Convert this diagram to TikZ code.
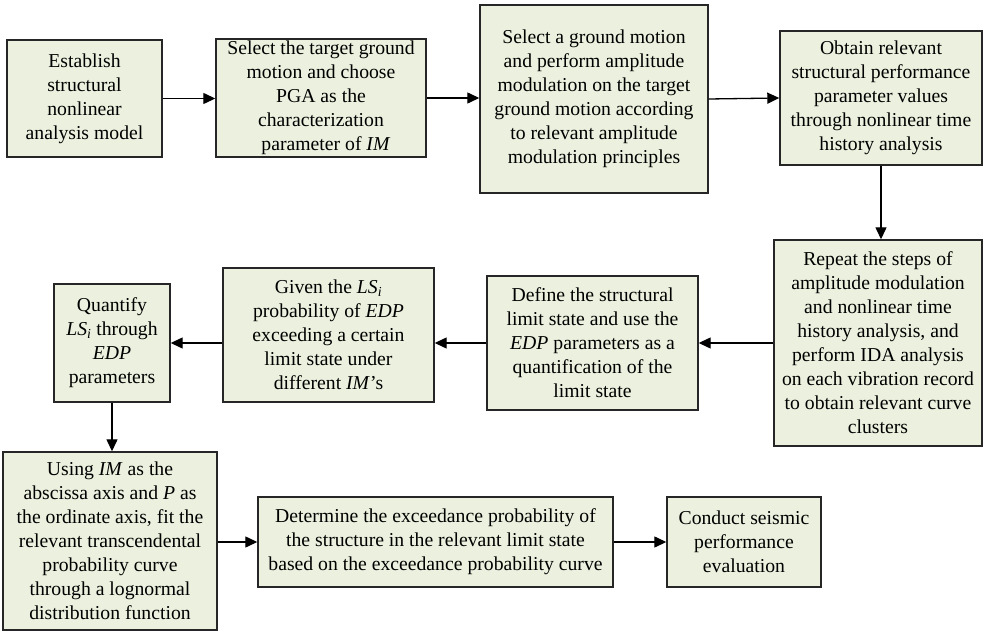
\documentclass[tikz,border=0pt]{standalone}
\usepackage{fontspec}
\setmainfont{Liberation Serif}
\usetikzlibrary{arrows.meta}
\definecolor{boxfill}{HTML}{EBF1DE}
\definecolor{boxline}{HTML}{262626}
\begin{document}
\begin{tikzpicture}[
            x = 1pt,
            y = -1pt,
            stepbox/.style = {
                draw = boxline,
                fill = boxfill,
                line width = 1.4pt,
                align = center,
                inner sep = 0pt,
                font = \fontsize{19.7}{24}\selectfont
            },
            flow/.style = {
                line width = 1.3pt,
                -{Triangle[length=12pt,width=11pt]}
            }
        ]
            \useasboundingbox (0,0) rectangle (983,631);
            % first row
            \node[stepbox, minimum width=155pt, minimum height=117pt] (est) at (84.5,98.5)
                {Establish\\structural\\nonlinear\\analysis model};
            \node[stepbox, minimum width=210pt, minimum height=118pt] (sel) at (321,98)
                {Select the target ground\\motion and choose\\PGA as the\\characterization\\\ \ parameter of \textit{IM}};
            \node[stepbox, minimum width=228pt, minimum height=188pt] (amp) at (594,99)
                {Select a ground motion\\and perform amplitude\\modulation on the target\\ground motion according\\to relevant amplitude\\modulation principles};
            \node[stepbox, minimum width=202pt, minimum height=134pt] (obt) at (881,98)
                {Obtain relevant\\structural performance\\parameter values\\through nonlinear time\\history analysis};
            % second row
            \node[stepbox, minimum width=208pt, minimum height=206pt] (rep) at (878,343)
                {Repeat the steps of\\amplitude modulation\\and nonlinear time\\history analysis, and\\perform IDA analysis\\on each vibration record\\to obtain relevant curve\\clusters};
            \node[stepbox, minimum width=211pt, minimum height=134pt] (lim) at (592.5,343)
                {Define the structural\\limit state and use the\\\textit{EDP} parameters as a\\quantification of the\\limit state};
            \node[stepbox, minimum width=211pt, minimum height=134pt] (giv) at (328.5,335)
                {Given the \textit{LS}\textsubscript{\textit{i}}\\probability of \textit{EDP}\\exceeding a certain\\limit state under\\different \textit{IM}{\char"27}s};
            \node[stepbox, minimum width=116pt, minimum height=118pt] (qua) at (112,343)
                {Quantify\\\textit{LS}\textsubscript{\textit{i}} through\\\textit{EDP}\\parameters};
            % third row
            \node[stepbox, minimum width=214pt, minimum height=178pt] (fit) at (110,541)
                {Using \textit{IM} as the\\abscissa axis and \textit{P} as\\the ordinate axis, fit the\\relevant transcendental\\probability curve\\through a lognormal\\distribution function};
            \node[stepbox, minimum width=355pt, minimum height=90pt] (det) at (435.5,542)
                {Determine the exceedance probability of\\the structure in the relevant limit state\\based on the exceedance probability curve};
            \node[stepbox, minimum width=154pt, minimum height=90pt] (eva) at (744,542)
                {Conduct seismic\\performance\\evaluation};
            % arrows
            \draw[flow] (est.east) -- (est.east -| sel.west);
            \draw[flow] (sel.east) -- (sel.east -| amp.west);
            \draw[flow] (amp.east) -- (obt.west);
            \draw[flow] (obt.south) -- (obt.south |- rep.north);
            \draw[flow] (rep.west) -- (rep.west -| lim.east);
            \draw[flow] (lim.west) -- (lim.west -| giv.east);
            \draw[flow] (qua.east -| giv.west) -- (qua.east);
            \draw[flow] (qua.south) -- (qua.south |- fit.north);
            \draw[flow] (fit.east |- det.west) -- (det.west);
            \draw[flow] (det.east) -- (eva.west);
        \end{tikzpicture}
\end{document}
